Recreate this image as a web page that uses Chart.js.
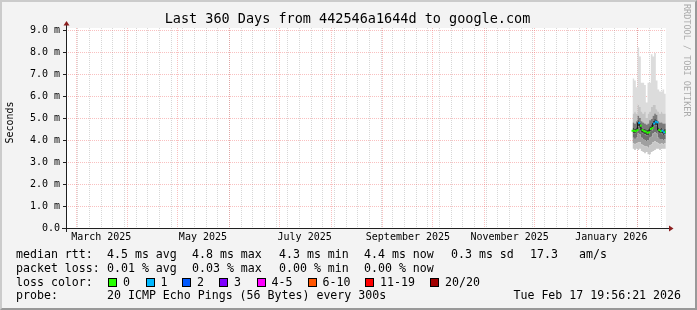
<!DOCTYPE html>
<html>
<head>
<meta charset="utf-8">
<script src="https://cdn.jsdelivr.net/npm/chart.js@4.4.1/dist/chart.umd.min.js"></script>
<style>
  html, body { margin: 0; padding: 0; background: #f3f3f3; }
  #wrap { position: relative; width: 697px; height: 310px; overflow: hidden; font-family: "DejaVu Sans Mono", monospace; }
  #grafico { position: absolute; left: 0; top: 0; }
  #marco { position: absolute; left: 0; top: 0; width: 697px; height: 310px; box-sizing: border-box;
           border: 2px solid; border-color: #cbcbcb #999999 #999999 #cbcbcb; pointer-events: none; }
  .t { position: absolute; font-size: 11.6px; line-height: 14px; white-space: pre; color: #000; }
  .box { position: absolute; width: 9px; height: 9px; box-sizing: border-box; border: 1px solid #000; }
  #marca { position: absolute; left: 682px; top: 4px; writing-mode: vertical-rl; font-size: 8.5px;
           line-height: 10px; color: #aaaaaa; white-space: pre; }
</style>
</head>
<body>
<div id="wrap">
  <canvas id="grafico" width="697" height="310"></canvas>
  <div id="leyenda"></div>
  <span id="marca">RRDTOOL / TOBI OETIKER</span>
  <div id="marco"></div>
</div>
<script>
const titulo = "Last 360 Days from 442546a1644d to google.com"

// time axis: days since the start of the window (360 days before Tue Feb 17 19:56:21 2026)
const t0 = Date.UTC(2025, 1, 22, 19, 56, 21)
const dayOf = (s) => (Date.parse(s + "T00:00:00Z") - t0) / 86400000

const monthLines = ["2025-03-01", "2025-04-01", "2025-05-01", "2025-06-01", "2025-07-01", "2025-08-01",
                    "2025-09-01", "2025-10-01", "2025-11-01", "2025-12-01", "2026-01-01", "2026-02-01"]
const firstSunday = "2025-02-23"
const xLabels = ["March 2025", "May 2025", "July 2025", "September 2025", "November 2025", "January 2026"]
const xLabelDates = ["2025-03-16", "2025-05-16", "2025-07-16", "2025-09-16", "2025-11-16", "2026-01-16"]
const yLabels = ["0.0", "1.0 m", "2.0 m", "3.0 m", "4.0 m", "5.0 m", "6.0 m", "7.0 m", "8.0 m", "9.0 m"]

// smoke (ms), one column per day at the end of the window
const smokeDays = [339.9, 340.9, 341.9, 342.9, 343.9, 344.9, 345.9, 346.9, 347.9, 348.9, 349.9,
                   350.9, 351.9, 352.9, 353.9, 354.9, 355.9, 356.9, 357.9, 358.9, 359.9]
const pingMin   = [3.6, 3.6, 3.55, 3.6, 3.55, 3.6, 3.5, 3.45, 3.4, 3.45, 3.35, 3.35, 3.45, 3.5, 3.55, 3.6, 3.6, 3.55, 3.6, 3.6, 3.6]
const lowerMid  = [3.85, 3.85, 3.8, 3.85, 3.9, 3.9, 3.8, 3.75, 3.7, 3.7, 3.65, 3.75, 3.8, 3.9, 3.95, 3.9, 3.85, 3.8, 3.85, 3.8, 3.85]
const lowerDark = [4.1, 4.1, 4.05, 4.1, 4.3, 4.25, 4.1, 4.05, 4.0, 3.95, 4.0, 4.1, 4.15, 4.3, 4.35, 4.3, 4.1, 4.05, 4.05, 4.0, 4.05]
const coreLow   = [4.3, 4.3, 4.28, 4.33, 4.62, 4.52, 4.33, 4.28, 4.26, 4.21, 4.23, 4.38, 4.42, 4.6, 4.68, 4.66, 4.33, 4.28, 4.3, 4.23, 4.26]
const coreHigh  = [4.55, 4.55, 4.52, 4.58, 4.9, 4.78, 4.58, 4.52, 4.5, 4.46, 4.48, 4.62, 4.68, 4.88, 4.95, 4.92, 4.58, 4.52, 4.55, 4.48, 4.5]
const upperDark = [4.8, 4.8, 4.75, 4.85, 5.1, 5.0, 4.85, 4.8, 4.75, 4.7, 4.75, 4.9, 4.95, 5.1, 5.2, 5.15, 4.85, 4.8, 4.8, 4.75, 4.75]
const upperMid  = [5.3, 5.2, 5.3, 5.2, 5.6, 5.5, 5.3, 5.2, 5.3, 5.0, 5.2, 5.3, 5.5, 5.6, 5.6, 5.4, 5.3, 5.2, 5.3, 5.2, 5.2]
const pingMax   = [6.8, 6.8, 6.7, 6.4, 8.2, 7.8, 6.6, 6.6, 6.5, 5.7, 6.6, 6.6, 7.9, 7.8, 7.95, 6.7, 6.3, 6.2, 6.2, 6.3, 6.1]
const median    = [4.42, 4.42, 4.4, 4.45, 4.78, 4.65, 4.45, 4.4, 4.38, 4.33, 4.35, 4.5, 4.55, 4.75, 4.83, 4.8, 4.45, 4.4, 4.42, 4.35, 4.38]
const lossCount = [0, 0, 0, 0, 1, 0, 0, 0, 0, 0, 0, 0, 0, 1, 1, 1, 0, 0, 1, 1, 0]

// legend
const rttStats = ["4.5 ms avg", "4.8 ms max", "4.3 ms min", "4.4 ms now", "0.3 ms sd", "17.3", "am/s"]
const lossStats = ["0.01 % avg", "0.03 % max", "0.00 % min", "0.00 % now"]
const lossLegend = ["0", "1", "2", "3", "4-5", "6-10", "11-19", "20/20"]
const lossColors = ["#26ff00", "#00b8ff", "#0059ff", "#7e00ff", "#ff00ff", "#ff5500", "#ff0000", "#a10000"]
const probe = "20 ICMP Echo Pings (56 Bytes) every 300s"
const stamp = "Tue Feb 17 19:56:21 2026"

const statX = [107, 192, 279, 364, 451, 530, 579]
const boxX = [108, 145.5, 182, 219, 256.5, 307.5, 365, 430]

function lossColor(n) {
    if (n <= 3) return lossColors[n]
    if (n <= 5) return lossColors[4]
    if (n <= 10) return lossColors[5]
    if (n <= 19) return lossColors[6]
    return lossColors[7]
}

let html = ""
html += `<span class="t" style="left:16px;top:247px">median rtt:</span>`
rttStats.forEach((s, i) => {
    html += `<span class="t" style="left:${statX[i]}px;top:247px">${s}</span>`
})
html += `<span class="t" style="left:16px;top:261px">packet loss:</span>`
lossStats.forEach((s, i) => {
    html += `<span class="t" style="left:${statX[i]}px;top:261px">${s}</span>`
})
html += `<span class="t" style="left:16px;top:274.5px">loss color:</span>`
lossLegend.forEach((s, i) => {
    html += `<span class="box" style="left:${boxX[i]}px;top:278px;background:${lossColors[i]}"></span>`
    html += `<span class="t" style="left:${boxX[i] + 15}px;top:274.5px">${s}</span>`
})
html += `<span class="t" style="left:16px;top:288px">probe:</span>`
html += `<span class="t" style="left:107px;top:288px">${probe}</span>`
html += `<span class="t" style="right:16px;top:288px">${stamp}</span>`
document.getElementById("leyenda").innerHTML = html

// x ticks: weekly minor lines, monthly major lines, labels centred on the middle of the month
const xTicks = []
for (let d = dayOf(firstSunday); d < 360; d += 7) xTicks.push({ value: d, kind: "minor" })
monthLines.forEach(s => xTicks.push({ value: dayOf(s), kind: "major" }))
xLabelDates.forEach((s, i) => xTicks.push({ value: dayOf(s), kind: "label", text: xLabels[i] }))
xTicks.sort((a, b) => a.value - b.value)

const yTicks = []
yLabels.forEach((s, i) => {
    yTicks.push({ value: i, kind: "major", text: s })
    if (i < yLabels.length - 1) yTicks.push({ value: i + 0.5, kind: "minor", text: "" })
})

const redGrid = "rgba(240, 90, 90, 0.38)"
const grayGrid = "rgba(150, 150, 150, 0.38)"

const bands = [pingMin, lowerMid, lowerDark, coreLow, coreHigh, upperDark, upperMid, pingMax]
const bandColors = [null, "#c8c8c8", "#a0a0a0", "#707070", "#454545", "#7a7a7a", "#c4c4c4", "#dcdcdc"]

const datasets = bands.map((arr, i) => ({
    data: arr.map((v, j) => ({ x: smokeDays[j], y: v })),
    borderColor: "rgba(0,0,0,0)",
    backgroundColor: bandColors[i] || "rgba(0,0,0,0)",
    pointRadius: 0,
    stepped: "after",
    fill: i === 0 ? false : "-1",
    order: 2
}))
datasets.push({
    data: median.map((v, j) => ({ x: smokeDays[j], y: v })),
    borderColor: "#1a1a1a",
    borderWidth: 1,
    stepped: "after",
    fill: false,
    pointStyle: "rect",
    pointRadius: 1.4,
    pointBorderWidth: 0,
    pointBackgroundColor: lossCount.map(lossColor),
    pointBorderColor: lossCount.map(lossColor),
    order: 0
})

const rrdLook = {
    id: "rrdLook",
    beforeDraw(chart) {
        const { ctx, chartArea: a } = chart
        ctx.save()
        ctx.fillStyle = "#f3f3f3"
        ctx.fillRect(0, 0, chart.width, chart.height)
        ctx.fillStyle = "#ffffff"
        ctx.fillRect(a.left, a.top, a.right - a.left, a.bottom - a.top)
        ctx.restore()
    },
    afterDraw(chart) {
        const { ctx, chartArea: a } = chart
        ctx.save()
        ctx.strokeStyle = "#202020"
        ctx.lineWidth = 1
        ctx.beginPath()
        ctx.moveTo(a.left - 4, a.bottom + 0.5)
        ctx.lineTo(a.right + 4, a.bottom + 0.5)
        ctx.moveTo(a.left + 0.5, a.bottom + 4)
        ctx.lineTo(a.left + 0.5, a.top - 4)
        ctx.stroke()
        ctx.fillStyle = "#8b1f1f"
        ctx.beginPath()
        ctx.moveTo(a.right + 3, a.bottom - 2.5)
        ctx.lineTo(a.right + 7.5, a.bottom + 0.5)
        ctx.lineTo(a.right + 3, a.bottom + 3.5)
        ctx.fill()
        ctx.beginPath()
        ctx.moveTo(a.left - 2.5, a.top - 2.5)
        ctx.lineTo(a.left + 0.5, a.top - 7)
        ctx.lineTo(a.left + 3.5, a.top - 2.5)
        ctx.fill()
        // title, centred on the whole image like rrdtool does
        ctx.fillStyle = "#000"
        ctx.textAlign = "center"
        ctx.textBaseline = "middle"
        ctx.font = '13.5px "DejaVu Sans Mono"'
        ctx.fillText(titulo, 347.5, 19)
        // y axis title
        ctx.translate(10, 122.5)
        ctx.rotate(-Math.PI / 2)
        ctx.font = '10px "DejaVu Sans Mono"'
        ctx.fillText("Seconds", 0, 0)
        ctx.restore()
    }
}

Chart.defaults.font.family = '"DejaVu Sans Mono", monospace'

const ctx = document.getElementById("grafico").getContext("2d")
window.myChart = new Chart(ctx, {
    type: "line",
    data: { datasets: datasets },
    plugins: [rrdLook],
    options: {
        responsive: false,
        animation: false,
        devicePixelRatio: 1,
        layout: { padding: { left: 0, right: 31, top: 28, bottom: 62 } },
        plugins: {
            legend: { display: false },
            tooltip: { enabled: false },
            title: { display: false }
        },
        scales: {
            x: {
                type: "linear",
                min: 0,
                max: 360,
                afterBuildTicks: s => { s.ticks = xTicks.map(t => ({ ...t })) },
                afterFit: s => { s.height = 20 },
                ticks: {
                    autoSkip: false,
                    maxRotation: 0,
                    padding: 3,
                    color: "#000",
                    font: { size: 10 },
                    callback: (v, i, ticks) => ticks[i].text || ""
                },
                grid: {
                    drawTicks: false,
                    color: c => c.tick.kind === "major" ? redGrid : (c.tick.kind === "minor" ? grayGrid : "rgba(0,0,0,0)")
                },
                border: { display: false, dash: [1, 1] }
            },
            y: {
                min: 0,
                max: 200 / 22,
                afterBuildTicks: s => { s.ticks = yTicks.map(t => ({ ...t })) },
                afterFit: s => { s.width = 66 },
                ticks: {
                    padding: 3,
                    color: "#000",
                    font: { size: 10 },
                    callback: (v, i, ticks) => ticks[i].text
                },
                grid: {
                    drawTicks: true,
                    tickLength: 3,
                    tickColor: c => c.tick.kind === "major" ? "#202020" : "rgba(0,0,0,0)",
                    color: c => c.tick.kind === "major" ? redGrid : grayGrid
                },
                border: { display: false, dash: [1, 1] }
            }
        }
    }
})
</script>
</body>
</html>
